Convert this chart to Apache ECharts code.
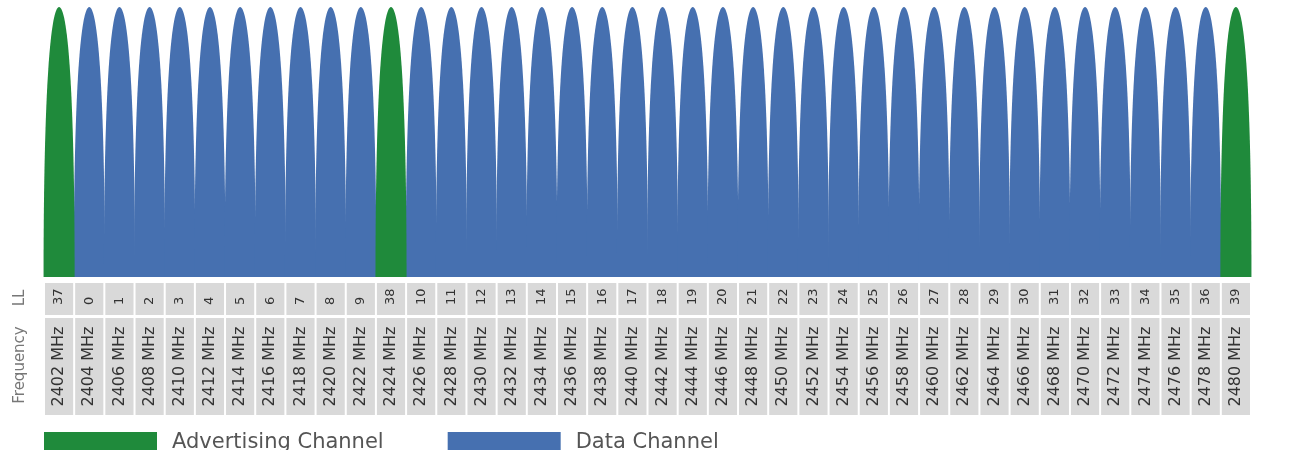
<!DOCTYPE html>
<html>
<head>
<meta charset="utf-8">
<script src="https://cdn.jsdelivr.net/npm/echarts@6/dist/echarts.min.js"></script>
<style>
  html, body { margin: 0; padding: 0; background: #fff; }
  #chart { width: 1289px; height: 450px; }
</style>
</head>
<body>
<div id="chart"></div>
<script>
// BLE channels in spectrum order: link-layer index and centre frequency (MHz)
const llChannels = [37, 0, 1, 2, 3, 4, 5, 6, 7, 8, 9, 38, 10, 11, 12, 13, 14, 15, 16, 17,
  18, 19, 20, 21, 22, 23, 24, 25, 26, 27, 28, 29, 30, 31, 32, 33, 34, 35, 36, 39];
const frequencies = [2402, 2404, 2406, 2408, 2410, 2412, 2414, 2416, 2418, 2420, 2422, 2424,
  2426, 2428, 2430, 2432, 2434, 2436, 2438, 2440, 2442, 2444, 2446, 2448, 2450, 2452, 2454,
  2456, 2458, 2460, 2462, 2464, 2466, 2468, 2470, 2472, 2474, 2476, 2478, 2480];
const advertisingChannels = [37, 38, 39];
// relative peak of every lobe (all reach the top of the plot)
const amplitude = [1, 1, 1, 1, 1, 1, 1, 1, 1, 1, 1, 1, 1, 1, 1, 1, 1, 1, 1, 1,
  1, 1, 1, 1, 1, 1, 1, 1, 1, 1, 1, 1, 1, 1, 1, 1, 1, 1, 1, 1];
const rowHeaders = ['LL', 'Frequency'];

const GREEN = '#1f8a3b';
const BLUE = '#4670b0';
const CELL = '#d9d9d9';
// one spectral lobe, drawn into the box of its channel
const LOBE = 'M0 100 C0 28 24 0 50 0 C76 0 100 28 100 100 Z';

const categories = frequencies.map(f => f + ' MHz');
const advData = [], dataData = [];
llChannels.forEach((ch, i) => {
  if (advertisingChannels.indexOf(ch) >= 0) advData.push([i, amplitude[i]]);
  else dataData.push([i, amplitude[i]]);
});

function lobe(params, api) {
  const top = api.coord([api.value(0), api.value(1)]);
  const base = api.coord([api.value(0), 0]);
  const w = api.size([1, 0])[0] * 1.03;
  return {
    type: 'path',
    shape: { pathData: LOBE, layout: 'cover', x: top[0] - w / 2, y: top[1], width: w, height: base[1] - top[1] },
    style: { fill: api.visual('color') }
  };
}

function tableCell(params, api) {
  const i = api.value(0);
  const cs = params.coordSys;
  const cx = api.coord([i, 0])[0];
  const w = api.size([1, 0])[0] - 2;
  const llH = 32, gap = 3;
  const fy = cs.y + llH + gap, fh = cs.height - llH - gap;
  return {
    type: 'group',
    children: [
      { type: 'rect', shape: { x: cx - w / 2, y: cs.y, width: w, height: llH }, style: { fill: CELL } },
      { type: 'rect', shape: { x: cx - w / 2, y: fy, width: w, height: fh }, style: { fill: CELL } },
      {
        type: 'text', x: cx, y: cs.y + 22, rotation: Math.PI / 2,
        style: { text: String(llChannels[i]), align: 'left', verticalAlign: 'middle',
          fill: '#333', font: '13px "DejaVu Sans"' }
      },
      {
        type: 'text', x: cx, y: fy + fh / 2, rotation: Math.PI / 2,
        style: { text: categories[i], align: 'center', verticalAlign: 'middle',
          fill: '#333', font: '16px "DejaVu Sans"' }
      }
    ]
  };
}

const chart = echarts.init(document.getElementById('chart'));
chart.setOption({
  animation: false,
  backgroundColor: '#fff',
  grid: [
    { left: 44, right: 38, top: 7, bottom: 173 },
    { left: 44, right: 38, top: 283, height: 132 }
  ],
  xAxis: [
    { type: 'category', data: categories, gridIndex: 0, show: false },
    { type: 'category', data: categories, gridIndex: 1, show: false }
  ],
  yAxis: [
    { type: 'value', min: 0, max: 1, gridIndex: 0, show: false },
    { type: 'value', min: 0, max: 1, gridIndex: 1, show: false }
  ],
  legend: {
    left: 44, top: 432, padding: 0, icon: 'rect', itemWidth: 113, itemHeight: 22, itemGap: 64,
    selectedMode: false,
    textStyle: { fontSize: 21, color: '#555', fontFamily: 'DejaVu Sans', padding: [0, 0, 0, 10] },
    data: ['Advertising Channel', 'Data Channel']
  },
  graphic: [
    { type: 'text', x: 20, y: 298, rotation: Math.PI / 2,
      style: { text: rowHeaders[0], align: 'center', verticalAlign: 'middle', fill: '#777', font: '15px "DejaVu Sans"' } },
    { type: 'text', x: 20, y: 365, rotation: Math.PI / 2,
      style: { text: rowHeaders[1], align: 'center', verticalAlign: 'middle', fill: '#777', font: '15px "DejaVu Sans"' } }
  ],
  series: [
    {
      name: 'Data Channel', type: 'custom', xAxisIndex: 0, yAxisIndex: 0,
      itemStyle: { color: BLUE }, renderItem: lobe, data: dataData, z: 2,
      encode: { x: 0, y: 1 }, silent: true
    },
    {
      name: 'Advertising Channel', type: 'custom', xAxisIndex: 0, yAxisIndex: 0,
      itemStyle: { color: GREEN }, renderItem: lobe, data: advData, z: 3,
      encode: { x: 0, y: 1 }, silent: true
    },
    {
      name: 'table', type: 'custom', xAxisIndex: 1, yAxisIndex: 1,
      renderItem: tableCell, data: llChannels.map((c, i) => [i, 0]),
      encode: { x: 0, y: 1 }, silent: true
    }
  ]
});
</script>
</body>
</html>
